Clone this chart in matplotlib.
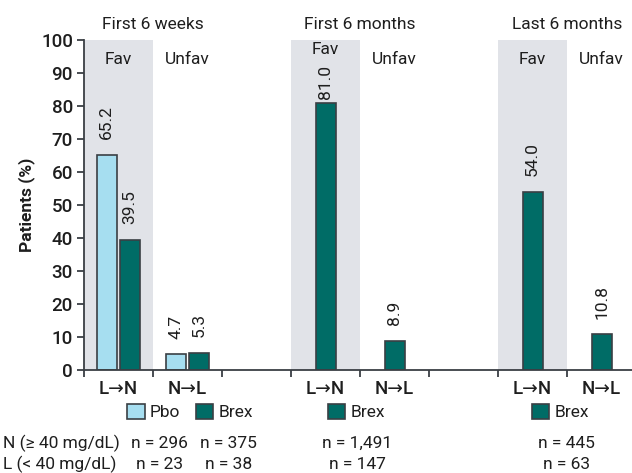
import matplotlib
matplotlib.use("Agg")
import matplotlib.pyplot as plt
import matplotlib.transforms as mtransforms
from matplotlib.patches import Patch
from matplotlib.legend import Legend

plt.rcParams['font.family'] = ['Roboto', 'DejaVu Sans']

# ---- data ----
slot_labels = ["L\u2192N", "N\u2192L", "", "L\u2192N", "N\u2192L", "", "L\u2192N", "N\u2192L"]
period_titles = ["First 6 weeks", "First 6 months", "Last 6 months"]
pbo_slots = [0, 1]
pbo_values = [65.2, 4.7]
brex_first_slots = [0, 1]
brex_first_values = [39.5, 5.3]
brex_single_slots = [3, 4, 6, 7]
brex_single_values = [81.0, 8.9, 54.0, 10.8]
fav_labels = ["Fav", "Unfav"]
row_labels = ["N (\u2265 40 mg/dL)", "L (< 40 mg/dL)"]
n_row_N = ["n = 296", "n = 375", "n = 1,491", "n = 445"]
n_row_L = ["n = 23", "n = 38", "n = 147", "n = 63"]

# ---- style ----
PBO = "#a6def0"
BREX = "#006c66"
SHADE = "#e1e3e8"
EDGE = "#3a3f44"
TXT = "#1e1e1e"

W, H = 632, 473
fig = plt.figure(figsize=(W / 100, H / 100), dpi=100)
ax = fig.add_axes([84 / W, (H - 370) / H, 1 - 84 / W, 330 / H])
ax.set_xlim(0, 7.94)
ax.set_ylim(0, 100)

for s in [0, 3, 6]:
    ax.axvspan(s, s + 1, color=SHADE, lw=0, zorder=0)

bw = 0.29
off = 0.17
ax.bar([s + 0.5 - off for s in pbo_slots], pbo_values, width=bw, color=PBO,
       edgecolor=EDGE, lw=1.2, zorder=2)
ax.bar([s + 0.5 + off for s in brex_first_slots], brex_first_values, width=bw,
       color=BREX, edgecolor=EDGE, lw=1.2, zorder=2)
ax.bar([s + 0.5 for s in brex_single_slots], brex_single_values, width=bw,
       color=BREX, edgecolor=EDGE, lw=1.2, zorder=2)

def vlabel(x, v):
    gap = 1.2 if v > 75 else 4.8
    ax.text(x, v + gap, f"{v:.1f}", rotation=90, ha='center', va='bottom',
            fontsize=12.5, color=TXT, zorder=3)

for s, v in zip(pbo_slots, pbo_values):
    vlabel(s + 0.5 - off, v)
for s, v in zip(brex_first_slots, brex_first_values):
    vlabel(s + 0.5 + off, v)
for s, v in zip(brex_single_slots, brex_single_values):
    vlabel(s + 0.5, v)

# Fav / Unfav labels
for g, base in enumerate([0, 3, 6]):
    fy = 97 if g == 1 else 94
    ax.text(base + 0.5, fy, fav_labels[0], ha='center', va='center', fontsize=12.5, color=TXT)
    ax.text(base + 1.5, 94, fav_labels[1], ha='center', va='center', fontsize=12.5, color=TXT)

# period titles
for g, base in enumerate([0, 3, 6]):
    ax.text(base + 1, 104.6, period_titles[g], ha='center', va='center',
            fontsize=12.5, color=TXT, clip_on=False)

# axes styling
for sp in ['top', 'right']:
    ax.spines[sp].set_visible(False)
for sp in ['left', 'bottom']:
    ax.spines[sp].set_color(EDGE)
    ax.spines[sp].set_linewidth(1.3)
ax.set_yticks(range(0, 101, 10))
ax.tick_params(axis='y', labelsize=13.5, length=5, width=1.3, color=EDGE,
               labelcolor=TXT, pad=3)
ax.set_xticks(range(0, 8))
ax.set_xticks([s + 0.5 for s in range(8)], minor=True)
ax.set_xticklabels([""] * 8)
ax.set_xticklabels(slot_labels, minor=True)
ax.tick_params(axis='x', which='major', length=5, width=1.3, color=EDGE)
ax.tick_params(axis='x', which='minor', length=0, labelsize=13.5, labelcolor=TXT, pad=7)
for lbl in ax.get_yticklabels():
    lbl.set_fontweight('medium')
for lbl in ax.get_xticklabels(minor=True):
    lbl.set_fontweight('medium')
ax.set_ylabel("Patients (%)", fontsize=12.5, fontweight='bold', color=TXT, labelpad=4)

# legends
trans = mtransforms.blended_transform_factory(ax.transData, fig.transFigure)
legend_specs = [([PBO, BREX], ["Pbo", "Brex"], 1.54),
                ([BREX], ["Brex"], 3.95),
                ([BREX], ["Brex"], 6.9)]
for colors, labels, xc in legend_specs:
    handles = [Patch(facecolor=c, edgecolor=EDGE, lw=1.2) for c in colors]
    leg = Legend(ax, handles, labels, ncol=len(handles), loc='center',
                 bbox_to_anchor=(xc, (H - 412) / H), bbox_transform=trans,
                 frameon=False, fontsize=12.5, handlelength=1.0, handleheight=1.0,
                 handletextpad=0.3, columnspacing=0.9, borderpad=0, borderaxespad=0)
    for t in leg.get_texts():
        t.set_color(TXT)
    ax.add_artist(leg)

# n rows
n_x = [1.10, 2.09, 3.96, 6.99]
for row, (lab, vals) in enumerate([(row_labels[0], n_row_N), (row_labels[1], n_row_L)]):
    yy = (H - (443 if row == 0 else 464)) / H
    fig.text(3 / W, yy, lab, ha='left', va='center', fontsize=12.5, color=TXT)
    for xv, t in zip(n_x, vals):
        ax.text(xv, yy, t, transform=trans, ha='center', va='center',
                fontsize=12.5, color=TXT, clip_on=False)

fig.savefig("out.png", dpi=100)
